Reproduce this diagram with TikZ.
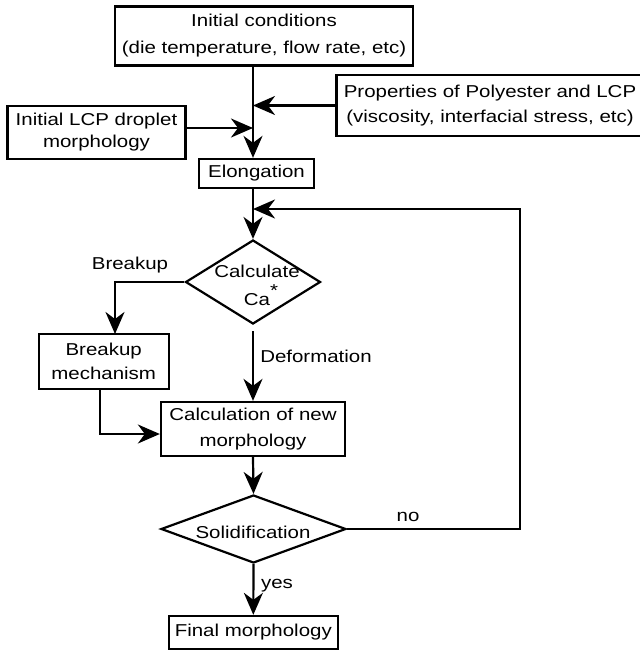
\documentclass[tikz,border=0pt]{standalone}
\usepackage{fontspec}
\setmainfont[FakeStretch=1.19]{Liberation Sans}
\usetikzlibrary{arrows.meta,shapes.geometric}
\newcommand\myfs[1]{\fontsize{17.2}{#1}\selectfont}
\begin{document}
\begin{tikzpicture}[x=1pt,y=-1pt,
  box/.style={draw,line width=2.3pt,inner sep=0pt,align=center},
  dia/.style={draw,diamond,line width=2.2pt,inner sep=0pt},
  lbl/.style={inner sep=0pt,font=\myfs{20}},
  arr/.style={line width=2.2pt,-{Stealth[length=22pt,width=19pt,inset=7pt]}},
  ln/.style={line width=2.2pt}]
\useasboundingbox (0,0) rectangle (640,651);
% boxes
\node[box,minimum width=298pt,minimum height=59pt,font=\myfs{27}] (init) at (264,36) {Initial conditions\\(die temperature, flow rate, etc)};
\node[box,minimum width=307pt,minimum height=61pt,font=\myfs{25}] (props) at (490,105.5) {Properties of Polyester and LCP\\(viscosity, interfacial stress, etc)};
\node[box,minimum width=178pt,minimum height=53pt,font=\myfs{22}] (lcp) at (96.5,132.5) {Initial LCP droplet\\morphology};
\node[box,minimum width=115pt,minimum height=29pt,font=\myfs{20}] (elong) at (256.5,173.5) {Elongation};
\node[dia,minimum width=135pt,minimum height=84pt] (calc) at (253,282) {};
\node[lbl] (calct) at (257,271) {Calculate};
\node[lbl,anchor=base] (cat) at (261,305) {Ca\raisebox{9pt}{*}};
\node[box,minimum width=130pt,minimum height=55pt,font=\myfs{24}] (brk) at (103.7,361.5) {Breakup\\mechanism};
\node[box,minimum width=184pt,minimum height=54pt,font=\myfs{26}] (newm) at (253,429) {Calculation of new\\morphology};
\node[dia,minimum width=185pt,minimum height=68pt] (solid) at (253.5,529) {};
\node[lbl] (solidt) at (253,532) {Solidification};
\node[box,minimum width=169pt,minimum height=33pt,font=\myfs{20}] (final) at (253.3,632.5) {Final morphology};
% labels
\node[lbl] (lbrk) at (130,265) {Breakup};
\node[lbl] (ldef) at (316,356) {Deformation};
\node[lbl] (lno) at (408,517) {no};
\node[lbl] (lyes) at (277,586) {yes};
% coordinates
\coordinate (lj) at (253,128);
\coordinate (fb) at (520,209);
\coordinate (bk) at (115,334);
\coordinate (bj) at (100,434);
% connectors
\draw[arr] (init.south -| calc) -- (elong.north -| calc);
\draw[arr] (props.west) -- (props.west -| calc);
\draw[arr] (lj -| lcp.east) -- (lj);
\draw[arr] (elong.south -| calc) -- (calc.north);
\draw[arr] (solid.east) -| (fb) -- (fb -| calc);
\draw[arr] (calc.west) -| (bk);
\draw[arr] ([yshift=-6pt]calc.south) -- (newm.north);
\draw[arr] (bj |- brk.south) -- (bj) -- (bj -| newm.west);
\draw[arr] (newm.south) -- (solid.north);
\draw[arr] (solid.south) -- (final.north);
\end{tikzpicture}
\end{document}
